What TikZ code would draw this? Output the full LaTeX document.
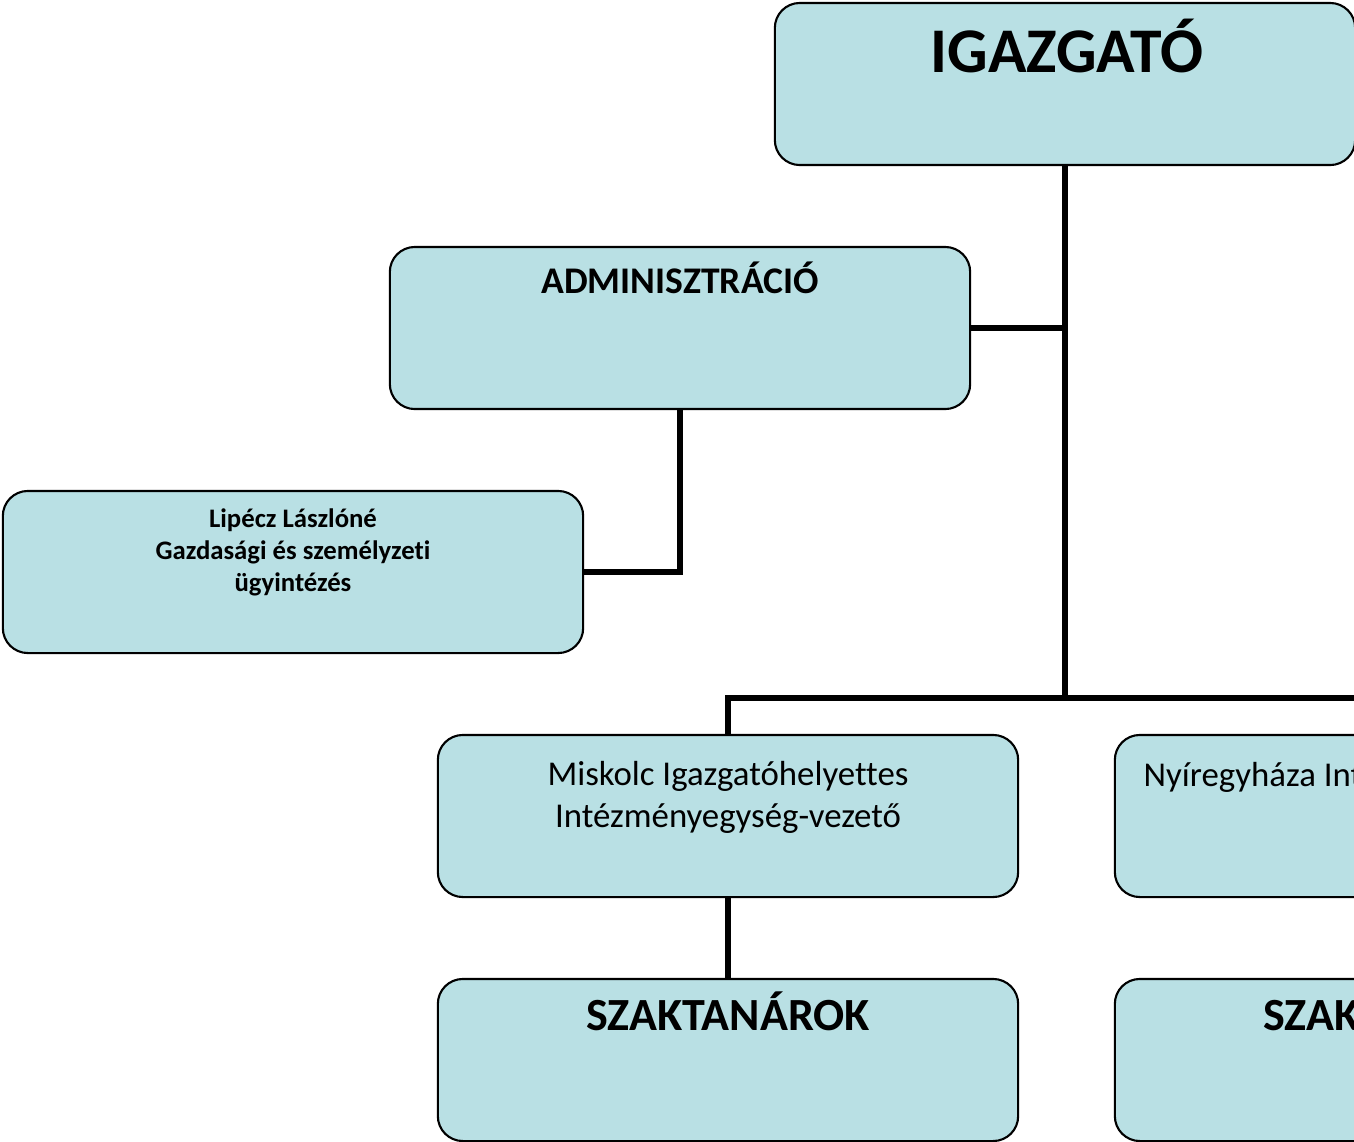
\documentclass[tikz,border=0pt]{standalone}
\usepackage{fontspec}
\setmainfont{Carlito}[Ligatures=CommonOff]
\definecolor{boxblue}{RGB}{185,224,228}

\begin{document}
\begin{tikzpicture}[x=0.01cm, y=-0.01cm, box/.style={draw, line width=0.6pt, fill=boxblue, rounded corners=0.25cm, minimum width=5.8cm, minimum height=1.62cm},
link/.style={line width=1.5pt},
huge/.style={font=\fontsize{18.1}{21}\selectfont\bfseries, anchor=base},
head/.style={font=\fontsize{13.1}{15.5}\selectfont\bfseries, anchor=base},
mid/.style={font=\fontsize{10.7}{12.5}\selectfont\bfseries, anchor=base},
plain/.style={font=\fontsize{9.9}{11.7}\selectfont, align=center, anchor=base},
tiny/.style={font=\fontsize{7.6}{9.1}\selectfont\bfseries, align=center, anchor=base}
]
\useasboundingbox (0,0) rectangle (1354,1142);
\clip (0,0) rectangle (1354,1142);

\node[box] (igaz) at (1065,84) {};
\node[box] (admin) at (680,328) {};
\node[box] (lip) at (293,572) {};
\node[box] (misk) at (728,816) {};
\node[box] (nyir) at (1405,816) {};
\node[box] (szak1) at (728,1060) {};
\node[box] (szak2) at (1405,1060) {};
\coordinate (bus) at (igaz.south |- 0,698);

\node[huge] (igaz-t) at (1067,72) {IGAZGATÓ};
\node[mid] (admin-t) at (680,293) {ADMINISZTRÁCIÓ};
\node[tiny] (lip-t) at (293,591) {Lipécz Lászlóné\\Gazdasági és személyzeti\\ügyintézés};
\node[plain] (misk-t) at (728,827) {Miskolc Igazgatóhelyettes\\Intézményegység-vezető};
\node[plain, anchor=base west, inner sep=0pt] (nyir-t) at (1143,786) {Nyíregyháza Intézményegység-vezető};
\node[head] (szak1-t) at (728,1030) {SZAKTANÁROK};
\node[head] (szak2-t) at (1405,1030) {SZAKTANÁROK};

\draw[link] (igaz.south) -- (bus);
\draw[link] (admin.east) -- (admin.east -| igaz.south);
\draw[link] (admin.south) |- (lip.east);
\draw[link] (misk.north) |- (bus) -| (nyir.north);
\draw[link] (misk.south) -- (szak1.north);

\end{tikzpicture}
\end{document}
